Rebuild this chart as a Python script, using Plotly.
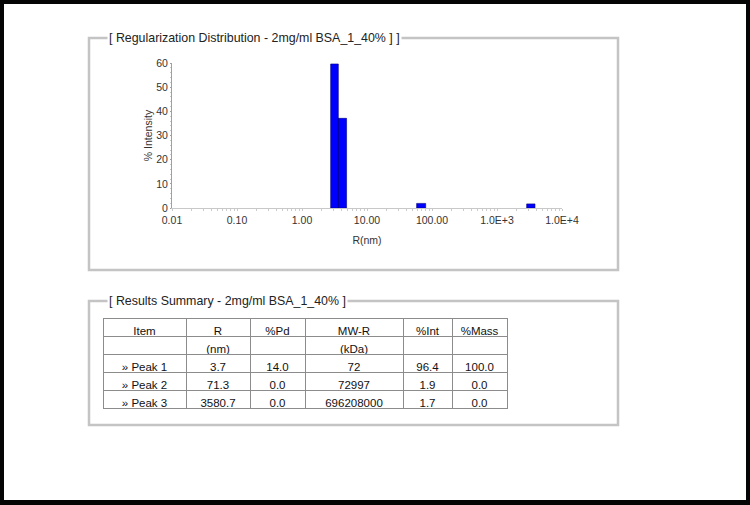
import plotly.graph_objects as go

W, H = 750, 505

# ---- data ----
bin_left = [2.76, 3.62, 58.0, 2860.0]
bin_right = [3.62, 4.85, 80.0, 3840.0]
intensity = [59.6, 37.1, 1.9, 1.7]

tick_vals = [0.01, 0.1, 1, 10, 100, 1000, 10000]
tick_text = ["0.01", "0.10", "1.00", "10.00", "100.00", "1.0E+3", "1.0E+4"]

col_names = ["Item", "R", "%Pd", "MW-R", "%Int", "%Mass"]
col_item = ["", "» Peak 1", "» Peak 2", "» Peak 3"]
col_r = ["(nm)", "3.7", "71.3", "3580.7"]
col_pd = ["", "14.0", "0.0", "0.0"]
col_mw = ["(kDa)", "72", "72997", "696208000"]
col_int = ["", "96.4", "1.9", "1.7"]
col_mass = ["", "100.0", "0.0", "0.0"]

title1 = "[ Regularization Distribution - 2mg/ml BSA_1_40% ] ]"
title2 = "[ Results Summary - 2mg/ml BSA_1_40% ]"


def px(x):
    return x / W


def py(y):
    return 1 - y / H


FONT = "Liberation Sans, Arial, sans-serif"

# bar polygons
xs, ys = [], []
for l, r, h in zip(bin_left, bin_right, intensity):
    xs += [l, l, r, r, l, None]
    ys += [0, h, h, 0, 0, None]

fig = go.Figure()
fig.add_trace(go.Scatter(
    x=xs, y=ys, mode="lines", fill="toself",
    fillcolor="#0000FF", line=dict(color="#000080", width=0.6),
    hoverinfo="skip", showlegend=False,
))

minor_vals = []
for e in range(-2, 4):
    for m in range(2, 10):
        minor_vals.append(m * 10 ** e)

fig.add_trace(go.Table(
    domain=dict(x=[px(103), px(507)], y=[py(412), py(318)]),
    columnwidth=[83, 64, 55, 98, 49, 55],
    header=dict(
        values=col_names, height=18, align="center",
        line=dict(color="#8c8c8c", width=1), fill=dict(color="white"),
        font=dict(family=FONT, size=11.5, color="#111"),
    ),
    cells=dict(
        values=[col_item, col_r, col_pd, col_mw, col_int, col_mass],
        height=18, align="center",
        line=dict(color="#8c8c8c", width=1), fill=dict(color="white"),
        font=dict(family=FONT, size=11.5, color="#111"),
    ),
))

fig.update_layout(
    width=W, height=H, autosize=False,
    margin=dict(l=0, r=0, t=0, b=0, pad=0),
    paper_bgcolor="white", plot_bgcolor="white",
    font=dict(family=FONT, size=10, color="#333"),
    showlegend=False,
    xaxis=dict(
        type="log", range=[-2, 4], automargin=False,
        domain=[px(172), px(562)],
        tickmode="array", tickvals=tick_vals, ticktext=tick_text,
        showgrid=False, zeroline=False,
        showline=True, linecolor="#c8c8c8", linewidth=1,
        ticks="outside", ticklen=2, tickcolor="#c8c8c8",
        minor=dict(tickmode="array", tickvals=minor_vals, ticks="outside",
                   ticklen=2, tickcolor="#cccccc", showgrid=False),
        tickfont=dict(size=10.5, color="#333"),
        title=dict(text="R(nm)", font=dict(size=10.5, color="#333"), standoff=12),
        fixedrange=True,
    ),
    yaxis=dict(
        range=[0, 60], automargin=False,
        domain=[py(208), py(63)],
        tickmode="array", tickvals=[0, 10, 20, 30, 40, 50, 60],
        showgrid=False, zeroline=False,
        showline=True, linecolor="#a0a0a0", linewidth=1,
        ticks="outside", ticklen=1, tickcolor="#a0a0a0",
        minor=dict(dtick=2, ticks="outside", ticklen=1, tickcolor="#c8c8c8", showgrid=False),
        tickfont=dict(size=10.5, color="#333"),
        title=dict(text="% Intensity", font=dict(size=10.5, color="#333"), standoff=1),
        fixedrange=True,
    ),
)

shapes = []
# panel frames
for (x0, y0, x1, y1) in [(89, 38, 618, 270), (89, 301, 618, 425)]:
    shapes.append(dict(type="rect", xref="paper", yref="paper",
                       x0=px(x0), x1=px(x1), y0=py(y1), y1=py(y0),
                       line=dict(color="#c4c4c4", width=2.5), layer="below"))
# outer black border
for (x0, y0, x1, y1) in [(0, 0, 750, 4), (0, 500, 750, 505), (0, 0, 4, 505), (746, 0, 750, 505)]:
    shapes.append(dict(type="rect", xref="paper", yref="paper",
                       x0=px(x0), x1=px(x1), y0=py(y1), y1=py(y0),
                       fillcolor="#050505", line=dict(width=0), layer="above"))
fig.update_layout(shapes=shapes)

for text, x, y in [(title1, 107, 38), (title2, 107, 301)]:
    fig.add_annotation(text=text, xref="paper", yref="paper",
                       x=px(x), y=py(y), xanchor="left", yanchor="middle",
                       showarrow=False, bgcolor="white", borderpad=1,
                       font=dict(family=FONT, size=12.4, color="#222"))

fig.write_html(
    "out.html",
    config={"displayModeBar": False, "staticPlot": True},
    post_script="document.body.style.margin='0';document.body.style.overflow='hidden';",
)
